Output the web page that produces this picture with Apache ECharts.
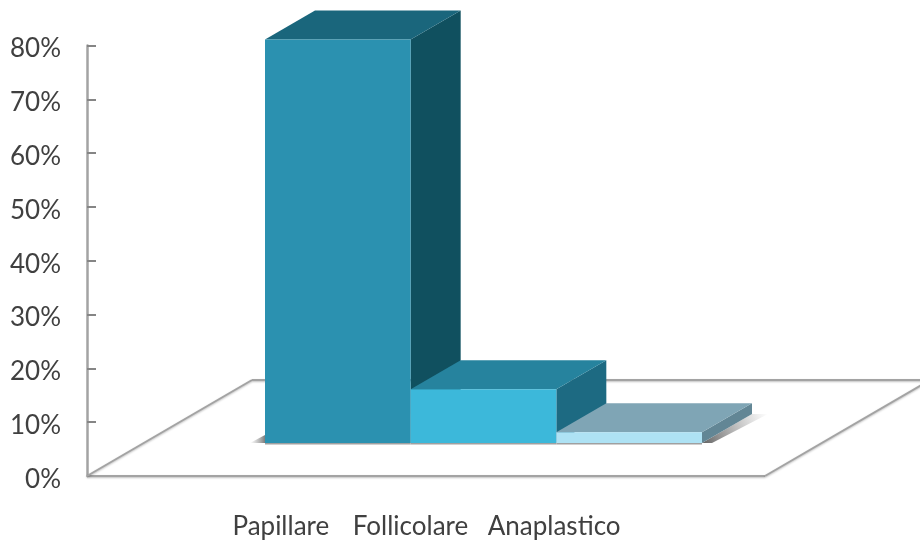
<!DOCTYPE html>
<html>
<head>
<meta charset="utf-8">
<style>html,body{margin:0;padding:0;background:#fff}#chart{width:920px;height:542px}</style>
<script src="https://cdn.jsdelivr.net/npm/echarts@6/dist/echarts.min.js"></script>
</head>
<body>
<div id="chart"></div>
<script>
// Distribution of thyroid carcinoma histotypes (percent of cases)
const categories = ['Papillare', 'Follicolare', 'Anaplastico'];
const shares = [75, 10, 2];
const frontColors = ['#2b91b0', '#3cb8da', '#aee2f4'];
const topColors = ['#1a667c', '#26839e', '#7fa5b5'];
const sideColors = ['#10505f', '#1d6a82', '#628695'];
// Extra right padding nudges each axis label left of its band centre
const labelNudge = [0, 32, 36];

// Oblique projection of the 3D look, in pixels
const barDepth = [50, -29];
const baseShift = [57, -33];
const floorDepth = [165, -96];
const floorOverhang = [121, 120];

function poly(points, fill, z2) {
  return { type: 'polygon', shape: { points }, style: { fill }, z2: z2 || 0 };
}

function renderFloor(params, api) {
  const band = api.size([1, 0])[0];
  const origin = api.coord([0, 0]);
  const xl = origin[0] - band / 2 - floorOverhang[0];
  const xr = origin[0] + band * 2.5 + floorOverhang[1];
  const y = origin[1];
  const back = y + floorDepth[1];
  const edge = { stroke: '#a3a3a3', lineWidth: 2, shadowBlur: 2, shadowColor: 'rgba(0,0,0,0.25)', shadowOffsetY: 1 };
  const line = (x1, y1, x2, y2) => ({ type: 'line', shape: { x1, y1, x2, y2 }, style: edge });
  return {
    type: 'group',
    children: [
      line(xl, y, xr, y),
      line(xl, y, xl + floorDepth[0], back),
      line(xr, y, xr + floorDepth[0], back),
      line(xl + floorDepth[0], back, xr + floorDepth[0], back)
    ]
  };
}

function renderBar(params, api) {
  const i = params.dataIndex;
  const band = api.size([1, 0])[0];
  const centre = api.coord([i, 0])[0];
  const x0 = centre - band / 2 + baseShift[0];
  const x1 = centre + band / 2 + baseShift[0];
  const yb = api.coord([i, 0])[1] + baseShift[1];
  const yt = api.coord([i, api.value(1)])[1] + baseShift[1];
  const [dx, dy] = barDepth;
  const children = [];
  const fade = (x, y, x2, y2, from, to) => ({ type: 'linear', x, y, x2, y2, colorStops: [{ offset: 0, color: from }, { offset: 1, color: to }] });
  if (i === 0) {
    children.push(poly([[x0 - 15, yb], [x0, yb], [x0, yb - 8]], fade(0, 0, 1, 0, 'rgba(150,150,150,0)', 'rgba(110,110,110,0.9)')));
  }
  if (i === categories.length - 1) {
    children.push(poly([[x1, yb], [x1 + dx, yb + dy], [x1 + dx + 16, yb + dy], [x1 + 10, yb]], fade(0, 1, 1, 0, 'rgba(70,70,70,0.85)', 'rgba(120,120,120,0)')));
  }
  children.push({ type: 'line', shape: { x1: x0, y1: yb + 0.5, x2: x1, y2: yb + 0.5 }, style: { stroke: '#a0a0a0', lineWidth: 2 } });
  children.push(poly([[x1, yb], [x1 + dx, yb + dy], [x1 + dx, yt + dy], [x1, yt]], sideColors[i]));
  children.push(poly([[x0, yt], [x1, yt], [x1 + dx, yt + dy], [x0 + dx, yt + dy]], topColors[i]));
  children.push(poly([[x0, yb], [x1, yb], [x1, yt], [x0, yt]], frontColors[i]));
  return { type: 'group', children };
}

const textFont = 'Lato, sans-serif';
const chart = echarts.init(document.getElementById('chart'), null, { renderer: 'canvas' });
chart.setOption({
  animation: false,
  backgroundColor: '#fff',
  grid: { left: 208, width: 437, top: 45.5, height: 430.5 },
  xAxis: {
    type: 'category',
    data: categories,
    axisLine: { show: false },
    axisTick: { show: false },
    axisLabel: {
      interval: 0,
      margin: 38,
      formatter: (v, i) => '{l' + i + '|' + v + '}',
      rich: Object.fromEntries(labelNudge.map((n, i) => ['l' + i, {
        fontFamily: textFont, fontSize: 26, color: '#404040', padding: [0, n, 0, 0]
      }]))
    }
  },
  yAxis: {
    type: 'value',
    min: 0,
    max: 80,
    interval: 10,
    offset: 121,
    splitLine: { show: false },
    axisLine: { show: true, lineStyle: { color: '#a3a3a3', width: 2.5 } },
    axisTick: { show: true, inside: true, length: 9, lineStyle: { color: '#858585', width: 2 } },
    axisLabel: {
      margin: 26,
      formatter: '{p|{value}%}',
      rich: { p: { fontFamily: textFont, fontSize: 26, color: '#404040', padding: [7, 0, 0, 0] } }
    }
  },
  series: [
    { type: 'custom', name: 'Piano', silent: true, clip: false, z: 1, renderItem: renderFloor, data: [[0, 0]], encode: { x: 0, y: 1 } },
    {
      type: 'custom', name: 'Istotipo', silent: true, clip: false, z: 2, renderItem: renderBar,
      data: shares.map((v, i) => [i, v]), encode: { x: 0, y: 1 }
    }
  ]
});
</script>
</body>
</html>
